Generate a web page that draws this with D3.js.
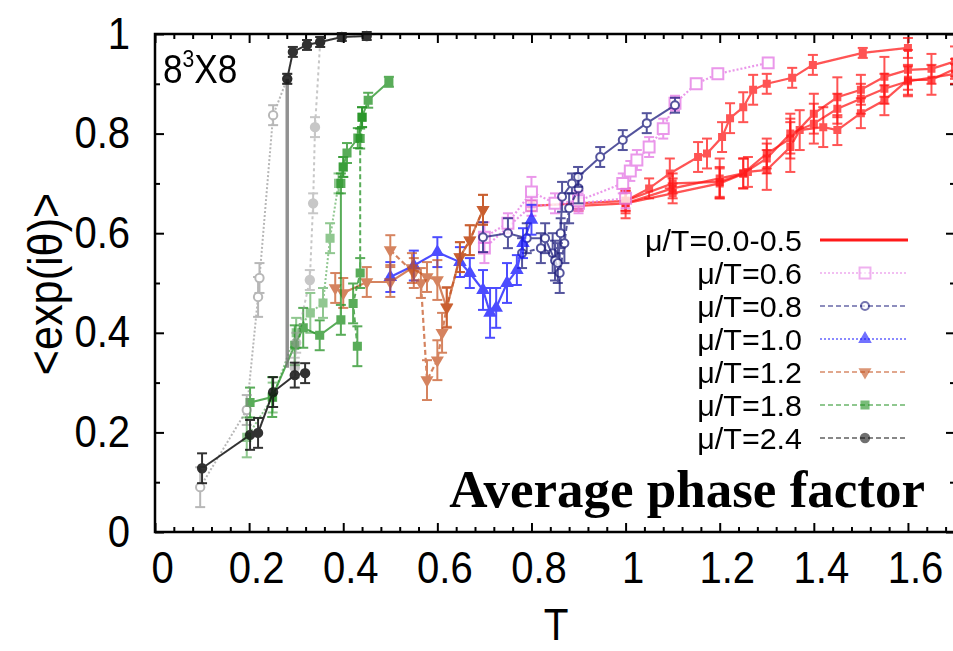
<!DOCTYPE html>
<html>
<head>
<meta charset="utf-8">
<script src="https://cdn.jsdelivr.net/npm/d3@7"></script>
<style>
  body { margin: 0; background: #fff; }
</style>
</head>
<body>
<div id="chart"></div>
<script>
// axis ticks
var xTicks = [0, 0.2, 0.4, 0.6, 0.8, 1, 1.2, 1.4, 1.6];
var yTicks = [0, 0.2, 0.4, 0.6, 0.8, 1];
var yMinor = [0.1, 0.3, 0.5, 0.7, 0.9];
var legendLabels = ["\u03bc/T=0.0-0.5", "\u03bc/T=0.6", "\u03bc/T=0.8", "\u03bc/T=1.0", "\u03bc/T=1.2", "\u03bc/T=1.8", "\u03bc/T=2.4"];

// points are [T, <exp(i theta)>, error]
// mu/T = 0.0-0.5 (several runs)
var red1 = [[0.80,0.655,0.01],[0.90,0.66,0.01],[1.0,0.665,0.02],[1.05,0.69,0.02],[1.094,0.72,0.03],[1.154,0.753,0.03],[1.173,0.76,0.03],[1.205,0.793,0.03],[1.222,0.831,0.03],[1.25,0.853,0.03],[1.271,0.888,0.03],[1.30,0.90,0.02],[1.354,0.912,0.02],[1.398,0.938,0.02],[1.504,0.962,0.01],[1.60,0.972,0.02]];
var red2 = [[0.90,0.655,0.01],[1.0,0.66,0.03],[1.1,0.69,0.02],[1.2,0.71,0.04],[1.25,0.72,0.03],[1.3,0.76,0.03],[1.35,0.79,0.04],[1.4,0.84,0.04],[1.45,0.873,0.04],[1.5,0.888,0.03],[1.55,0.914,0.04],[1.6,0.928,0.04],[1.65,0.93,0.03],[1.7,0.945,0.03]];
var red3 = [[1.0,0.66,0.02],[1.1,0.68,0.02],[1.2,0.70,0.03],[1.26,0.723,0.03],[1.3,0.727,0.04],[1.35,0.773,0.05],[1.37,0.807,0.04],[1.42,0.813,0.04],[1.45,0.807,0.03],[1.5,0.841,0.03],[1.55,0.867,0.03],[1.6,0.908,0.03],[1.65,0.908,0.03],[1.7,0.93,0.02]];
var red4 = [[1.0,0.665,0.02],[1.1,0.70,0.02],[1.2,0.703,0.03],[1.25,0.72,0.03],[1.3,0.75,0.03],[1.35,0.80,0.04],[1.4,0.82,0.04],[1.45,0.85,0.03],[1.5,0.87,0.03],[1.55,0.89,0.03],[1.6,0.905,0.03],[1.7,0.92,0.02]];
// mu/T = 0.6
var violet1 = [[0.70,0.592,0.03],[0.75,0.62,0.02],[0.80,0.683,0.03],[0.85,0.66,0.02],[0.90,0.665,0.02],[0.994,0.70,0.02],[1.01,0.725,0.02],[1.024,0.747,0.02],[1.05,0.773,0.02],[1.08,0.81,0.02],[1.105,0.861,0.015],[1.15,0.90,0.01],[1.196,0.92,0.01],[1.303,0.942,0.01]];
var violet2 = [[0.70,0.57,0.03],[0.80,0.655,0.02],[0.90,0.66,0.02],[1.0,0.67,0.02]];
// mu/T = 0.8
var navy1 = [[0.697,0.592,0.03],[0.75,0.60,0.03],[0.79,0.59,0.03],[0.829,0.59,0.03],[0.85,0.545,0.04],[0.856,0.54,0.04],[0.862,0.60,0.03],[0.865,0.673,0.03],[0.886,0.70,0.02],[0.899,0.713,0.02],[0.946,0.753,0.02],[0.994,0.787,0.02],[1.045,0.821,0.02],[1.105,0.857,0.015]];
var navy2 = [[0.78,0.56,0.03],[0.82,0.57,0.03],[0.845,0.56,0.04],[0.86,0.52,0.04],[0.87,0.58,0.04],[0.88,0.65,0.03],[0.90,0.69,0.03]];
// mu/T = 1.0
var blue1 = [[0.50,0.512,0.03],[0.55,0.535,0.03],[0.60,0.562,0.03],[0.648,0.542,0.03],[0.669,0.52,0.03],[0.697,0.486,0.04],[0.712,0.44,0.05],[0.725,0.45,0.04],[0.748,0.50,0.04],[0.769,0.526,0.03],[0.782,0.58,0.03],[0.80,0.627,0.03]];
// mu/T = 1.2
var brown1 = [[0.383,0.49,0.03],[0.40,0.48,0.03],[0.45,0.502,0.03],[0.50,0.502,0.03],[0.546,0.53,0.03],[0.578,0.512,0.03],[0.60,0.506,0.04],[0.62,0.45,0.04],[0.648,0.552,0.03],[0.669,0.586,0.03],[0.697,0.647,0.03]];
var brown2 = [[0.50,0.566,0.03],[0.55,0.52,0.03],[0.565,0.50,0.03],[0.578,0.305,0.04],[0.60,0.345,0.04],[0.61,0.40,0.04],[0.62,0.452,0.04],[0.648,0.552,0.03],[0.669,0.586,0.03],[0.697,0.647,0.03]];
// mu/T = 1.8
var green1 = [[0.202,0.26,0.03],[0.249,0.271,0.04],[0.297,0.375,0.04],[0.315,0.41,0.04],[0.35,0.395,0.03],[0.395,0.426,0.03],[0.395,0.70,0.02],[0.40,0.733,0.02],[0.408,0.761,0.02],[0.431,0.791,0.02],[0.44,0.833,0.02],[0.453,0.867,0.015],[0.497,0.904,0.01]];
var green2 = [[0.43,0.373,0.04],[0.421,0.459,0.04],[0.436,0.52,0.03],[0.436,0.79,0.02],[0.44,0.833,0.02]];
var green3 = [[0.195,0.19,0.04],[0.25,0.27,0.03],[0.30,0.40,0.03],[0.33,0.44,0.04],[0.357,0.46,0.03],[0.372,0.59,0.03],[0.39,0.70,0.02],[0.40,0.733,0.02]];
// mu/T = 2.4
var black1 = [[0.10,0.128,0.03],[0.202,0.195,0.03],[0.219,0.199,0.03],[0.251,0.281,0.03],[0.297,0.315,0.025],[0.319,0.319,0.02]];
var black2 = [[0.281,0.91,0.01],[0.293,0.964,0.01],[0.323,0.978,0.01],[0.351,0.984,0.01],[0.397,0.994,0.008],[0.45,0.996,0.008]];
var black3 = [[0.096,0.09,0.04],[0.195,0.245,0.03],[0.219,0.472,0.04],[0.222,0.51,0.03],[0.251,0.837,0.02],[0.281,0.91,0.01]];
var black4 = [[0.297,0.33,0.02],[0.30,0.38,0.02],[0.329,0.506,0.02],[0.336,0.66,0.02],[0.34,0.813,0.02],[0.351,0.984,0.01]];
var blackJump = [[0.281,0.33,0],[0.281,0.91,0]];

var width = 953, height = 651;
var sansFont = "'Liberation Sans', Arial, sans-serif";

var svg = d3.select("#chart").append("svg")
    .attr("width", width)
    .attr("height", height)
    .style("background", "#fff");

var defs = svg.append("defs");
defs.append("filter").attr("id", "soft")
    .append("feGaussianBlur").attr("stdDeviation", 0.6);

var x = d3.scaleLinear().domain([0, 1.7]).range([155, 955]);
var y = d3.scaleLinear().domain([0, 1]).range([532, 34]);

var styles = [
  { color: "#ff1a1a", sym: d3.symbolSquare, fill: true,  size: 36,  dash: null,  lw: 2.2, op: 0.75 },
  { color: "#e57ee5", sym: d3.symbolSquare, fill: false, size: 120, dash: "2,2", lw: 2.2, op: 0.8 },
  { color: "#1c1c7c", sym: d3.symbolCircle, fill: false, size: 50,  dash: "5,3", lw: 2,   op: 0.75 },
  { color: "#1414ff", sym: d3.symbolTriangle, fill: true, size: 45, dash: "2,2", lw: 2.2, op: 0.75 },
  { color: "#c4501c", sym: d3.symbolTriangle, fill: true, size: 40, dash: "5,3", lw: 2.2, op: 0.7, flip: true },
  { color: "#209020", sym: d3.symbolSquare, fill: true,  size: 50,  dash: "5,3", lw: 2,   op: 0.75 },
  { color: "#111111", sym: d3.symbolCircle, fill: true,  size: 55,  dash: "5,3", lw: 2,   op: 0.85 }
];

// each curve: data + which legend entry + tweaks
var curves = [
  { data: red1, s: 0 }, { data: red2, s: 0 }, { data: red3, s: 0 }, { data: red4, s: 0 },
  { data: violet2, s: 1 }, { data: violet1, s: 1 },
  { data: navy2, s: 2 }, { data: navy1, s: 2, dash: null },
  { data: blue1, s: 3, dash: null },
  { data: brown2, s: 4 }, { data: brown1, s: 4, dash: null },
  { data: green3, s: 5, dash: "2,2", op: 0.5 }, { data: green2, s: 5 }, { data: green1, s: 5, dash: null },
  { data: black3, s: 6, dash: "2,2", color: "#888", fill: false, op: 0.6 },
  { data: black4, s: 6, dash: "3,3", color: "#999", op: 0.55 },
  { data: blackJump, s: 6, dash: null, color: "#777", lw: 3.5, op: 0.8, noMarks: true },
  { data: black1, s: 6, dash: null }, { data: black2, s: 6, dash: null }
];

// frame and ticks
var frame = svg.append("g");

function tickAxis(axis, tr, vals, size) {
  var g = frame.append("g").attr("transform", tr)
      .call(axis.tickValues(vals).tickSize(size).tickFormat(""));
  g.select(".domain").remove();
  g.selectAll("line").attr("stroke", "#000").attr("stroke-width", 2);
  return g;
}

var xMinor = d3.range(0.04, 1.7, 0.04).filter(function(d) {
  return Math.abs(d / 0.2 - Math.round(d / 0.2)) > 0.01;
});

tickAxis(d3.axisTop(x), "translate(0,34)", xTicks, -9);
tickAxis(d3.axisTop(x), "translate(0,34)", xMinor, -5);
tickAxis(d3.axisBottom(x), "translate(0,532)", xMinor, -5);
tickAxis(d3.axisLeft(y), "translate(155,0)", yMinor, -5);
tickAxis(d3.axisRight(y), "translate(955,0)", yTicks, -9);
tickAxis(d3.axisRight(y), "translate(955,0)", yMinor, -5);

var sx = 0.91;
var xAxisG = frame.append("g").attr("transform", "translate(0,532)")
    .call(d3.axisBottom(x).tickValues(xTicks).tickSize(-9).tickPadding(20)
          .tickFormat(function(d) { return d3.format("")(+d.toFixed(1)); }));
xAxisG.select(".domain").remove();
xAxisG.selectAll("line").attr("stroke", "#000").attr("stroke-width", 2);
xAxisG.selectAll("text")
    .attr("font-size", 44).attr("fill", "#000")
    .style("font-family", sansFont)
    .attr("transform", "scale(" + sx + ",1)")
    .attr("x", 7 / sx);

var yAxisG = frame.append("g").attr("transform", "translate(155,0)")
    .call(d3.axisLeft(y).tickValues(yTicks).tickSize(-9).tickPadding(25)
          .tickFormat(function(d) { return d3.format("")(+d.toFixed(1)); }));
yAxisG.select(".domain").remove();
yAxisG.selectAll("line").attr("stroke", "#000").attr("stroke-width", 2);
yAxisG.selectAll("text")
    .attr("font-size", 44).attr("fill", "#000")
    .style("font-family", sansFont)
    .attr("transform", "scale(" + sx + ",1)")
    .attr("x", -25 / sx);

frame.append("rect")
    .attr("x", x(0)).attr("y", y(1))
    .attr("width", x(1.7) - x(0)).attr("height", y(0) - y(1))
    .attr("fill", "none").attr("stroke", "#000").attr("stroke-width", 2.5);

// data
var plot = svg.append("g").attr("filter", "url(#soft)");
var line = d3.line().x(function(d) { return x(d[0]); }).y(function(d) { return y(d[1]); });

curves.forEach(function(c) {
  var st = styles[c.s];
  var color = c.color || st.color;
  var dash = c.dash !== undefined ? c.dash : st.dash;
  var op = c.op || st.op;
  var fill = c.fill !== undefined ? c.fill : st.fill;
  var g = plot.append("g").attr("opacity", op);

  g.append("path").datum(c.data)
      .attr("d", line)
      .attr("fill", "none")
      .attr("stroke", color)
      .attr("stroke-width", c.lw || st.lw)
      .attr("stroke-dasharray", dash);

  if (c.noMarks) return;

  // error bars
  var eb = g.selectAll(".eb").data(c.data).enter().append("g");
  eb.append("line")
      .attr("x1", function(d) { return x(d[0]); })
      .attr("x2", function(d) { return x(d[0]); })
      .attr("y1", function(d) { return y(d[1] - d[2]); })
      .attr("y2", function(d) { return y(d[1] + d[2]); })
      .attr("stroke", color).attr("stroke-width", 2);
  [-1, 1].forEach(function(sg) {
    eb.append("line")
        .attr("x1", function(d) { return x(d[0]) - 5; })
        .attr("x2", function(d) { return x(d[0]) + 5; })
        .attr("y1", function(d) { return y(d[1] + sg * d[2]); })
        .attr("y2", function(d) { return y(d[1] + sg * d[2]); })
        .attr("stroke", color).attr("stroke-width", 2);
  });

  g.selectAll(".mk").data(c.data).enter().append("path")
      .attr("d", d3.symbol().type(st.sym).size(st.size))
      .attr("transform", function(d) {
        return "translate(" + x(d[0]) + "," + y(d[1]) + ")" + (st.flip ? " rotate(180)" : "");
      })
      .attr("fill", fill ? color : "#fff")
      .attr("stroke", color)
      .attr("stroke-width", 2);
});

// legend
var legend = svg.append("g");
legendLabels.forEach(function(lab, i) {
  var st = styles[i];
  var cy = 240 + i * 33;
  legend.append("text")
      .attr("transform", "translate(802," + (cy + 11) + ") scale(1.05,1)")
      .attr("text-anchor", "end")
      .attr("font-size", 29)
      .style("font-family", sansFont)
      .attr("fill", "#000")
      .text(lab);
  legend.append("line")
      .attr("x1", 820).attr("x2", 908).attr("y1", cy).attr("y2", cy)
      .attr("stroke", st.color)
      .attr("stroke-width", i === 0 ? 3 : 2)
      .attr("stroke-dasharray", i === 0 ? null : st.dash)
      .attr("opacity", i === 0 ? 1 : 0.5);
  if (i > 0) {
    legend.append("path")
        .attr("d", d3.symbol().type(st.sym).size(st.size))
        .attr("transform", "translate(865," + cy + ")" + (st.flip ? " rotate(180)" : ""))
        .attr("fill", st.fill ? st.color : "#fff")
        .attr("stroke", st.color).attr("stroke-width", 2)
        .attr("opacity", 0.6);
  }
});

// labels
var lat = svg.append("text")
    .attr("transform", "translate(163,83) scale(0.88,1)")
    .attr("font-size", 40)
    .style("font-family", sansFont)
    .attr("fill", "#000");
lat.append("tspan").text("8");
lat.append("tspan").attr("font-size", 24).attr("dy", -16).text("3");
lat.append("tspan").attr("dy", 16).text("X8");

svg.append("text")
    .attr("transform", "translate(62,284) rotate(-90) scale(0.9,1)")
    .attr("text-anchor", "middle")
    .attr("font-size", 48)
    .style("font-family", sansFont)
    .attr("fill", "#000")
    .text("<exp(i\u03b8)>");

svg.append("text")
    .attr("transform", "translate(556,640) scale(0.92,1)")
    .attr("text-anchor", "middle")
    .attr("font-size", 44)
    .style("font-family", sansFont)
    .attr("fill", "#000")
    .text("T");

svg.append("text")
    .attr("x", 925).attr("y", 507)
    .attr("text-anchor", "end")
    .style("font-family", "'Liberation Serif', 'Times New Roman', serif")
    .attr("font-weight", "bold")
    .attr("font-size", 53)
    .attr("fill", "#000")
    .text("Average phase factor");
</script>
</body>
</html>
